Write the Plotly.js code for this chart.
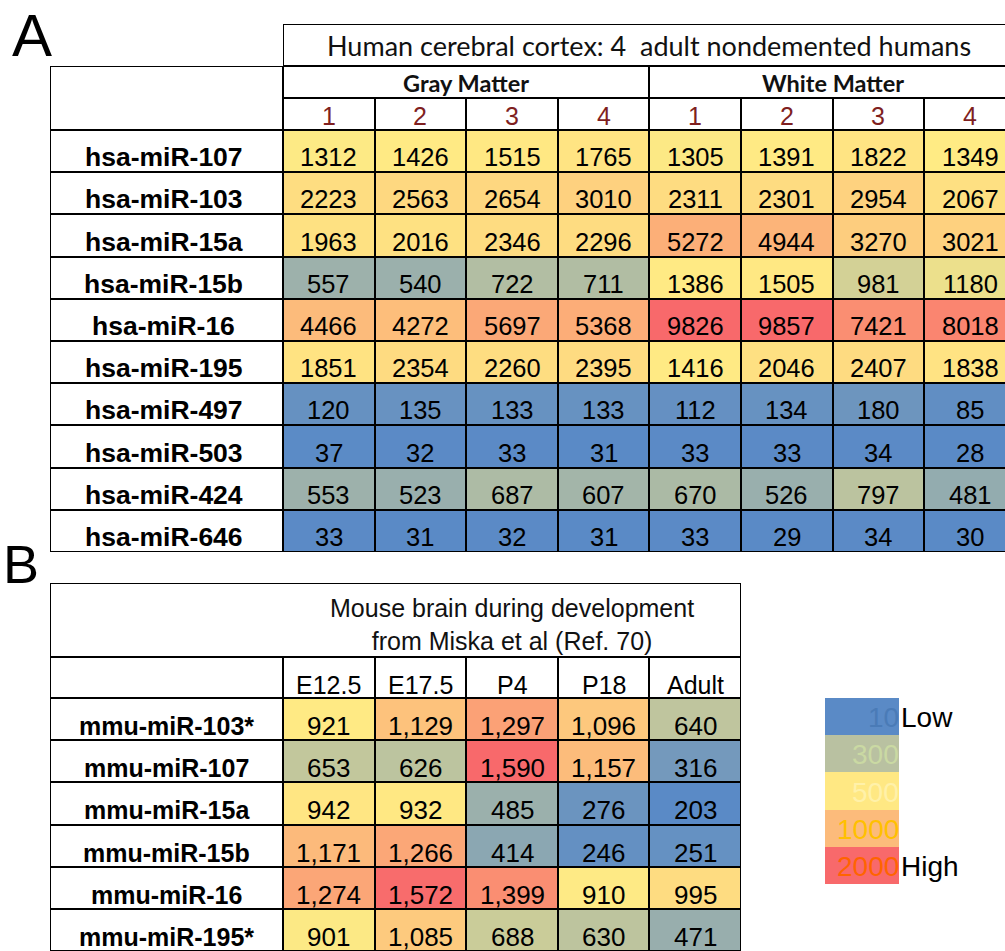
<!DOCTYPE html>
<html><head><meta charset="utf-8">
<script src="https://cdn.plot.ly/plotly-3.0.1.min.js"></script>
<style>html,body{margin:0;padding:0;background:#fff;overflow:hidden}</style>
</head><body><div id="chart" style="width:1005px;height:951px"></div>
<script>
// ---------------- data ----------------
const aTitle = 'Human cerebral cortex: 4  adult nondemented humans';
const aGroups = ['Gray Matter', 'White Matter'];
const aSubjects = ['1', '2', '3', '4'];
const aRows = ['hsa-miR-107','hsa-miR-103','hsa-miR-15a','hsa-miR-15b','hsa-miR-16','hsa-miR-195','hsa-miR-497','hsa-miR-503','hsa-miR-424','hsa-miR-646'];
const aGray = [[1312,1426,1515,1765],[2223,2563,2654,3010],[1963,2016,2346,2296],[557,540,722,711],[4466,4272,5697,5368],[1851,2354,2260,2395],[120,135,133,133],[37,32,33,31],[553,523,687,607],[33,31,32,31]];
const aWhite = [[1305,1391,1822,1349],[2311,2301,2954,2067],[5272,4944,3270,3021],[1386,1505,981,1180],[9826,9857,7421,8018],[1416,2046,2407,1838],[112,134,180,85],[33,33,34,28],[670,526,797,481],[33,29,34,30]];

const bTitle = 'Mouse brain during development<br>from Miska et al (Ref. 70)';
const bStages = ['E12.5','E17.5','P4','P18','Adult'];
const bRows = ['mmu-miR-103*','mmu-miR-107','mmu-miR-15a','mmu-miR-15b','mmu-miR-16','mmu-miR-195*'];
const bValues = [[921,1129,1297,1096,640],[653,626,1590,1157,316],[942,932,485,276,203],[1171,1266,414,246,251],[1274,1572,1399,910,995],[901,1085,688,630,471]];

const legendLabels = ['10','300','500','1000','2000'];
const legendEnds = ['Low','High'];

// ---------------- styling ----------------
const W = 1005, H = 951;
const LOW = '#5A8AC6', MID = '#FFEB84', HIGH = '#F8696B';
const legendColors = ['#5A8AC6','#B9C1A1','#FFE883','#FCBB7B','#F8696B'];
const legendTextColors = ['#4A7BB7','#CAD9A3','#FFF1A9','#FFC000','#FF6400'];
const NUMFONT = 'Liberation Sans, Arial, sans-serif';
const CALFONT = 'Lato, Open Sans, sans-serif';

const dx = (a, b) => [a / W, b / W];
const dy = (top, bot) => [1 - bot / H, 1 - top / H];

// geometry (pixels)
const A = {labL: 50, datL: 283, colW: 91.6, titleT: 24, groupT: 66, numT: 98, datT: 130, datB: 552};
const B = {labL: 50, datL: 283, right: 741, top: 583, headT: 657, datT: 698, datB: 951};
const LG = {l: 825, r: 899, t: 698, b: 884};
const aCut = (A.datL + 8 * A.colW - W) / A.colW;

function median(arr) {
  const s = arr.slice().sort((p, q) => p - q);
  const n = s.length;
  return n % 2 ? s[(n - 1) / 2] : (s[n / 2 - 1] + s[n / 2]) / 2;
}
function scaleFor(values) {
  const flat = values.flat();
  const mn = Math.min(...flat), mx = Math.max(...flat), md = median(flat);
  return {zmin: mn, zmax: mx, colorscale: [[0, LOW], [(md - mn) / (mx - mn), MID], [1, HIGH]]};
}

const aCols = [];
aGroups.forEach(g => aSubjects.forEach(s => aCols.push(g + ' ' + s)));
const aZ = aRows.map((_, r) => aGray[r].concat(aWhite[r]));

const GAP = 2;
const white = [[0, '#ffffff'], [1, '#ffffff']];
function blank(xs, ys, xa, ya) {
  return {type: 'heatmap', x: xs, y: ys, z: ys.map(() => xs.map(() => 0)), zmin: 0, zmax: 1,
    colorscale: white, showscale: false, xgap: GAP, ygap: GAP, xaxis: xa, yaxis: ya, hoverinfo: 'skip'};
}

const sA = scaleFor(aZ), sB = scaleFor(bValues);
const traces = [
  Object.assign({type: 'heatmap', x: aCols, y: aRows, z: aZ, showscale: false, xgap: GAP, ygap: GAP,
    xaxis: 'x', yaxis: 'y', hoverinfo: 'skip'}, sA),
  blank([' '], aRows, 'x2', 'y'),
  blank(aCols, ['n'], 'x', 'y2'),
  blank(aGroups, ['g'], 'x3', 'y3'),
  blank(['t'], ['t'], 'x4', 'y4'),
  blank([' '], ['h'], 'x2', 'y5'),
  Object.assign({type: 'heatmap', x: bStages, y: bRows, z: bValues, showscale: false, xgap: GAP, ygap: GAP,
    xaxis: 'x5', yaxis: 'y6', hoverinfo: 'skip'}, sB),
  blank([' '], bRows, 'x6', 'y6'),
  blank(bStages, ['s'], 'x5', 'y7'),
  blank([' '], ['s'], 'x6', 'y7'),
  blank(['t'], ['t'], 'x7', 'y8'),
  {type: 'heatmap', x: ['lg'], y: legendLabels.map(l => 'L' + l), z: legendLabels.map((_, i) => [i]), zmin: 0, zmax: legendLabels.length - 1,
    colorscale: legendColors.map((c, i) => [i / (legendColors.length - 1), c]), showscale: false,
    xaxis: 'x8', yaxis: 'y9', hoverinfo: 'skip'}
];

const ax = (domain, range, anchor) => ({domain, range, anchor, type: 'category', showgrid: false, zeroline: false,
  showticklabels: false, ticks: '', showline: false, fixedrange: true});

const layout = {
  width: W, height: H, margin: {l: 0, r: 0, t: 0, b: 0}, paper_bgcolor: '#ffffff', plot_bgcolor: '#000000',
  showlegend: false,
  xaxis: ax(dx(A.datL, W), [-0.5, aCols.length - 0.5 - aCut], 'y'),
  yaxis: ax(dy(A.datT, A.datB), [aRows.length - 0.5, -0.5], 'x'),
  xaxis2: ax(dx(A.labL, A.datL), [-0.5, 0.5], 'y'),
  yaxis2: ax(dy(A.numT, A.datT), [-0.5, 0.5], 'x'),
  xaxis3: ax(dx(A.datL, W), [-0.5, aGroups.length - 0.5 - aCut / aSubjects.length], 'y3'),
  yaxis3: ax(dy(A.groupT, A.numT), [-0.5, 0.5], 'x3'),
  xaxis4: ax(dx(A.datL, W), [-0.5, 0.5 - aCut / aCols.length], 'y4'),
  yaxis4: ax(dy(A.titleT, A.groupT), [-0.5, 0.5], 'x4'),
  yaxis5: ax(dy(A.groupT, A.datT), [-0.5, 0.5], 'x2'),
  xaxis5: ax(dx(B.datL, B.right), [-0.5, bStages.length - 0.5], 'y6'),
  yaxis6: ax(dy(B.datT, B.datB), [bRows.length - 0.5, -0.5], 'x5'),
  xaxis6: ax(dx(B.labL, B.datL), [-0.5, 0.5], 'y6'),
  yaxis7: ax(dy(B.headT, B.datT), [-0.5, 0.5], 'x5'),
  xaxis7: ax(dx(B.labL, B.right), [-0.5, 0.5], 'y8'),
  yaxis8: ax(dy(B.top, B.headT), [-0.5, 0.5], 'x7'),
  xaxis8: ax(dx(LG.l, LG.r), [-0.5, 0.5], 'y9'),
  yaxis9: ax(dy(LG.t, LG.b), [legendLabels.length - 0.5, -0.5], 'x8'),
  annotations: []
};

const ann = layout.annotations;
const txt = (o) => ann.push(Object.assign({showarrow: false, xanchor: 'center', yanchor: 'middle'}, o));

// Panel A texts
txt({xref: 'x4', yref: 'y4', x: 't', y: 't', text: aTitle, font: {family: CALFONT, size: 27, color: '#111'}, yshift: -1});
aGroups.forEach(g => txt({xref: 'x3', yref: 'y3', x: g, y: 'g', text: '<b>' + g + '</b>', font: {family: CALFONT, size: 23.5, color: '#111'}, yshift: -1}));
aCols.forEach((c, i) => txt({xref: 'x', yref: 'y2', x: c, y: 'n', text: aSubjects[i % aSubjects.length],
  font: {family: NUMFONT, size: 25, color: '#7F1F1F'}, yshift: -2}));
aRows.forEach((r, ri) => {
  txt({xref: 'x2', yref: 'y', x: ' ', y: r, text: '<b>' + r + '</b>', font: {family: NUMFONT, size: 26.5, color: '#000'}, yshift: -6, xshift: -3});
  aCols.forEach((c, ci) => txt({xref: 'x', yref: 'y', x: c, y: r, text: String(aZ[ri][ci]),
    font: {family: NUMFONT, size: 25.5, color: '#000'}, yshift: -6}));
});

// Panel B texts
txt({xref: 'x5 domain', yref: 'y8 domain', x: 0.5, y: 0.5, text: bTitle, font: {family: NUMFONT, size: 25, color: '#111'}, yshift: -4});
bStages.forEach(s => txt({xref: 'x5', yref: 'y7', x: s, y: 's', text: s, font: {family: NUMFONT, size: 25, color: '#000'}, yshift: -7}));
bRows.forEach((r, ri) => {
  txt({xref: 'x6', yref: 'y6', x: ' ', y: r, text: '<b>' + r + '</b>', font: {family: NUMFONT, size: 25, color: '#000'}, yshift: -7});
  bStages.forEach((s, si) => txt({xref: 'x5', yref: 'y6', x: s, y: r, text: bValues[ri][si].toLocaleString('en-US'),
    font: {family: NUMFONT, size: 26, color: '#000'}, yshift: -7}));
});

// Legend texts (y given as category index)
legendLabels.forEach((l, i) => txt({xref: 'x8 domain', yref: 'y9', x: 1, y: i, xanchor: 'right', text: l,
  font: {family: NUMFONT, size: 28, color: legendTextColors[i]}, xshift: 2, yshift: -1}));
txt({xref: 'x8 domain', yref: 'y9', x: 1, y: 0, xanchor: 'left', text: legendEnds[0], font: {family: NUMFONT, size: 28, color: '#000'}, yshift: -1});
txt({xref: 'x8 domain', yref: 'y9', x: 1, y: legendLabels.length - 1, xanchor: 'left', text: legendEnds[1], font: {family: NUMFONT, size: 28, color: '#000'}, yshift: -1});

// Panel letters
txt({xref: 'paper', yref: 'paper', x: 10 / W, y: 1, xanchor: 'left', yanchor: 'top', text: 'A', font: {family: NUMFONT, size: 60, color: '#000'}});
txt({xref: 'paper', yref: 'paper', x: 1 / W, y: 1 - 532 / H, xanchor: 'left', yanchor: 'top', text: 'B', font: {family: NUMFONT, size: 54, color: '#000'}});

Plotly.newPlot('chart', traces, layout, {staticPlot: true, displayModeBar: false});
</script></body></html>
